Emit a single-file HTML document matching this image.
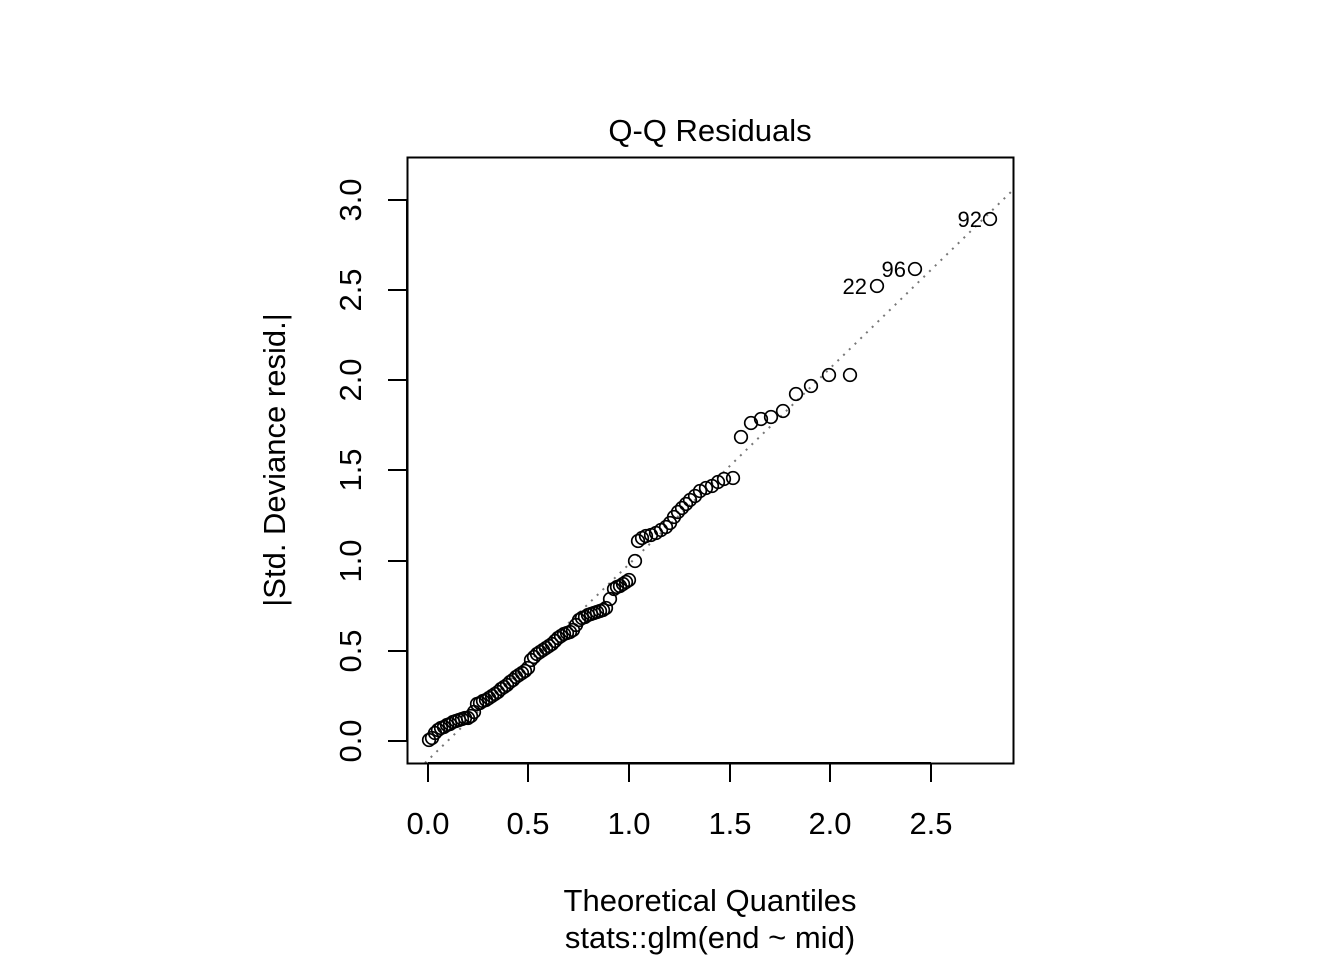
<!DOCTYPE html>
<html><head><meta charset="utf-8"><style>
html,body{margin:0;padding:0;background:#fff;}
svg{display:block;font-family:"Liberation Sans",Arial,sans-serif;}
</style></head><body>
<svg id="s" width="1344" height="960" viewBox="0 0 1344 960" xmlns="http://www.w3.org/2000/svg">
<rect x="0" y="0" width="1344" height="960" fill="#fff"/>
<text x="710" y="141" font-size="31" text-anchor="middle">Q-Q Residuals</text>
<line x1="425" y1="763" x2="1013" y2="190" stroke="#777" stroke-width="2" stroke-dasharray="2,6"/>
<rect x="407.5" y="157.5" width="606" height="606" fill="none" stroke="#000" stroke-width="2"/>
<g stroke="#000" stroke-width="2">
<line x1="428" y1="763" x2="931" y2="763"/>
<line x1="428" y1="763" x2="428" y2="782"/><line x1="528" y1="763" x2="528" y2="782"/>
<line x1="629" y1="763" x2="629" y2="782"/><line x1="730" y1="763" x2="730" y2="782"/>
<line x1="830" y1="763" x2="830" y2="782"/><line x1="931" y1="763" x2="931" y2="782"/>
<line x1="407" y1="741" x2="407" y2="200"/>
<line x1="388" y1="741" x2="407" y2="741"/><line x1="388" y1="651" x2="407" y2="651"/>
<line x1="388" y1="561" x2="407" y2="561"/><line x1="388" y1="470" x2="407" y2="470"/>
<line x1="388" y1="380" x2="407" y2="380"/><line x1="388" y1="290" x2="407" y2="290"/>
<line x1="388" y1="200" x2="407" y2="200"/>
</g>
<g font-size="31" text-anchor="middle">
<text x="428" y="834">0.0</text><text x="528" y="834">0.5</text><text x="629" y="834">1.0</text>
<text x="730" y="834">1.5</text><text x="830" y="834">2.0</text><text x="931" y="834">2.5</text>
<text transform="translate(361,741) rotate(-90)">0.0</text>
<text transform="translate(361,651) rotate(-90)">0.5</text>
<text transform="translate(361,561) rotate(-90)">1.0</text>
<text transform="translate(361,470) rotate(-90)">1.5</text>
<text transform="translate(361,380) rotate(-90)">2.0</text>
<text transform="translate(361,290) rotate(-90)">2.5</text>
<text transform="translate(361,200) rotate(-90)">3.0</text>
<text transform="translate(285,460) rotate(-90)">|Std. Deviance resid.|</text>
<text x="710" y="911">Theoretical Quantiles</text>
<text x="710" y="948">stats::glm(end ~ mid)</text>
</g>
<g font-size="22" text-anchor="end">
<text x="867" y="294">22</text><text x="906" y="277">96</text><text x="982" y="227">92</text>
</g>
<g id="pts" fill="none" stroke="#000" stroke-width="1.7"></g>
</svg>
<script>
var p=[429,740,432,738,435,733,438,730,441,728,444,727,447,725,450,724,453,722,456,721,459,720,462,719,465,718,468,718,471,716,474,712,477,704,480,703,483,701,486,700,489,698,492,696,495,694,498,692,501,689,504,687,507,685,510,682,513,680,516,677,519,675,522,673,525,671,528,668,531,660,534,657,537,654,540,652,543,650,546,648,549,646,552,644,555,641,558,638,561,636,564,634,567,633,570,632,573,630,576,625,579,620,582,618,585,617,588,615,591,614,594,613,597,612,600,611,603,610,606,608,610,599,614,589,617,587,620,586,623,584,626,582,629,580,635,561,638,541,642,538,646,536,651,535,656,533,661,530,666,527,670,523,674,517,678,512,682,508,686,504,690,500,695,496,700,491,706,488,712,486,718,482,724,479,733,478,741,437,751,423,761,419,771,417,783,411,796,394,811,386,829,375,850,375,877,286,915,269,990,219];
var g=document.getElementById('pts'),h='';
for(var i=0;i<p.length;i+=2)h+='<circle cx="'+p[i]+'" cy="'+p[i+1]+'" r="6.3"/>';
g.innerHTML=h;
</script>
</body></html>
